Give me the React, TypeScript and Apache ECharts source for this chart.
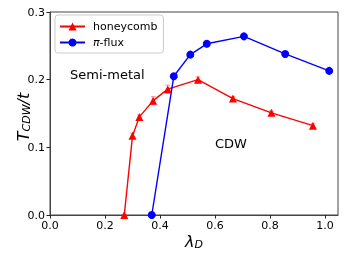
import React, { useEffect, useRef } from "react";
import * as echarts from "echarts";

const honeyX = [0.27, 0.30, 0.325, 0.375, 0.428, 0.538, 0.665, 0.805, 0.956];
const honeyY = [0.0, 0.117, 0.145, 0.169, 0.186, 0.2, 0.172, 0.151, 0.132];
const honeyErr = [0.0, 0.004, 0.003, 0.006, 0.006, 0.004, 0.003, 0.003, 0.003];
const piX = [0.37, 0.45, 0.51, 0.57, 0.705, 0.855, 1.015];
const piY = [0.0, 0.205, 0.237, 0.253, 0.264, 0.238, 0.213];
const piErr = [0.0, 0.002, 0.002, 0.002, 0.002, 0.002, 0.002];

const FONT = "DejaVu Sans";

const labelRich = {
  it: { fontSize: 16, fontStyle: "italic", fontFamily: FONT, fill: "#000", color: "#000" },
  sub: { fontSize: 11, fontStyle: "italic", fontFamily: FONT, fill: "#000", color: "#000", verticalAlign: "bottom", padding: [7, 0, 0, 0] },
};

function errSeries(xs: number[], ys: number[], es: number[], color: string) {
  return {
    type: "custom",
    silent: true,
    z: 1,
    data: xs.map((x, i) => [x, ys[i] - es[i], ys[i] + es[i]]),
    renderItem: (params: any, api: any) => {
      const lo = api.coord([api.value(0), api.value(1)]);
      const hi = api.coord([api.value(0), api.value(2)]);
      const w = 2.5;
      return {
        type: "group",
        children: [
          { type: "line", shape: { x1: lo[0], y1: lo[1], x2: hi[0], y2: hi[1] }, style: { stroke: color, lineWidth: 1 } },
          { type: "line", shape: { x1: lo[0] - w, y1: lo[1], x2: lo[0] + w, y2: lo[1] }, style: { stroke: color, lineWidth: 1 } },
          { type: "line", shape: { x1: hi[0] - w, y1: hi[1], x2: hi[0] + w, y2: hi[1] }, style: { stroke: color, lineWidth: 1 } },
        ],
      };
    },
  };
}

export default function App() {
  const ref = useRef<HTMLDivElement>(null);
  useEffect(() => {
    const chart = echarts.init(ref.current!, null, { renderer: "svg" });
    chart.setOption({
      animation: false,
      textStyle: { fontFamily: FONT },
      grid: {
        left: 50, right: 8, top: 12, bottom: 44,
        containLabel: false,
        outerBoundsMode: "none",
        show: true, borderColor: "#444", borderWidth: 1, backgroundColor: "transparent",
      },
      xAxis: {
        type: "value",
        min: 0,
        max: 1.047,
        interval: 0.2,
        axisLine: { show: true, lineStyle: { color: "#444" } },
        axisTick: { show: true, length: 3.5, lineStyle: { color: "#222" } },
        axisLabel: { color: "#000", fontSize: 11, fontFamily: FONT, margin: 5, formatter: (v: number) => v.toFixed(1) },
        splitLine: { show: false },
      },
      yAxis: {
        type: "value",
        min: 0,
        max: 0.3,
        interval: 0.1,
        axisLine: { show: true, lineStyle: { color: "#444" } },
        axisTick: { show: true, length: 3.5, lineStyle: { color: "#222" } },
        axisLabel: { color: "#000", fontSize: 11, fontFamily: FONT, margin: 5, formatter: (v: number) => v.toFixed(1) },
        splitLine: { show: false },
      },
      legend: {
        left: 55,
        top: 15,
        orient: "vertical",
        backgroundColor: "#fff",
        borderColor: "#ccc",
        borderWidth: 1,
        borderRadius: 3,
        padding: [6, 6, 5, 4],
        itemGap: 5,
        itemWidth: 25,
        itemHeight: 10,
        data: [{ name: "honeycomb" }, { name: "π-flux" }],
        formatter: (n: string) => (n === "π-flux" ? "{i|π}-flux" : n),
        textStyle: {
          fontSize: 11,
          fontFamily: FONT,
          color: "#000",
          padding: [0, 0, 0, 3],
          rich: { i: { fontSize: 11, fontStyle: "italic", fontFamily: FONT, color: "#000" } },
        },
      },
      graphic: [
        { type: "text", left: 70, top: 68, style: { text: "Semi-metal", fontSize: 13, fontFamily: FONT, fill: "#000" } },
        { type: "text", left: 215, top: 137, style: { text: "CDW", fontSize: 13, fontFamily: FONT, fill: "#000" } },
        {
          type: "text",
          x: 23,
          y: 117,
          rotation: Math.PI / 2,
          style: { text: "{it|T}{sub|CDW}{it|/t}", align: "center", verticalAlign: "middle", rich: labelRich },
        },
        {
          type: "text",
          x: 194,
          y: 241,
          style: { text: "{it|λ}{sub|D}", align: "center", verticalAlign: "middle", rich: labelRich },
        },
      ],
      series: [
        errSeries(honeyX, honeyY, honeyErr, "rgba(255,80,80,0.55)"),
        errSeries(piX, piY, piErr, "rgba(80,80,255,0.55)"),
        {
          name: "honeycomb",
          type: "line",
          data: honeyX.map((x, i) => [x, honeyY[i]]),
          symbol: "triangle",
          symbolSize: 8,
          color: "#ff0000",
          lineStyle: { color: "#ff0000", width: 1.4 },
          itemStyle: { color: "#ff0000" },
          clip: false,
          z: 3,
        },
        {
          name: "π-flux",
          type: "line",
          data: piX.map((x, i) => [x, piY[i]]),
          symbol: "circle",
          symbolSize: 8,
          color: "#0000ff",
          lineStyle: { color: "#0000ff", width: 1.4 },
          itemStyle: { color: "#0000ff" },
          clip: false,
          z: 3,
        },
      ],
    });
    return () => chart.dispose();
  }, []);
  return <div ref={ref} style={{ position: "fixed", left: 0, top: 0, width: 346, height: 259 }} />;
}
